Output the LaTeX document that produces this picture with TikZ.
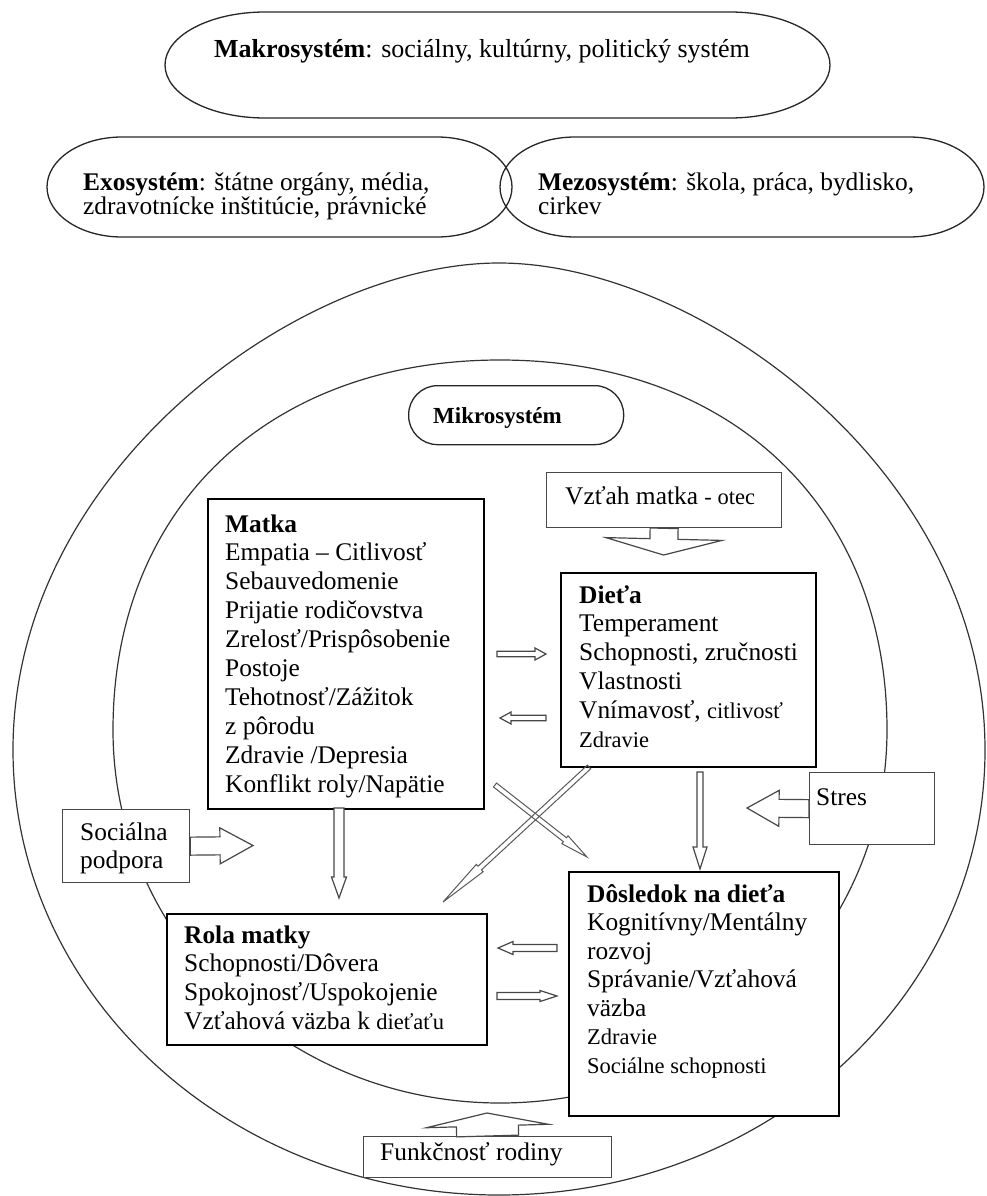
\documentclass[tikz,border=0pt]{standalone}
\usepackage{fontspec}
\setmainfont{Liberation Serif}
\usetikzlibrary{calc}
\newcommand\mainsz{\fontsize{25.4pt}{28.9pt}\selectfont}
\newcommand\smsz{\fontsize{22.5pt}{26pt}\selectfont}
\tikzset{
  box/.style={draw=black, line width=1.5pt, fill=white, anchor=north west, inner sep=0pt},
  gbox/.style={draw=black!72, line width=1.3pt, fill=white, anchor=north west, inner sep=0pt},
  txt/.style={anchor=base west, inner sep=0pt, font=\mainsz},
  ring/.style={draw=black!80, line width=1.2pt},
  stad/.style={draw=black!85, line width=1.3pt},
  barrow/.style={draw=black!72, line width=1.2pt, fill=white},
  thinarr/.style={draw=black!65, line width=1pt},
}
\newcommand\stadium[6]{%
  \draw[stad] ({#1+#5},#2) -- ({#3-#5},#2)
    arc[start angle=90,end angle=-90,x radius=#5pt,y radius=#6pt]
    -- ({#1+#5},#4)
    arc[start angle=270,end angle=90,x radius=#5pt,y radius=#6pt] -- cycle;}
\newcommand\blockarr[6][barrow]{%
  \coordinate (bah) at ($(#3)!#6!(#2)$);
  \draw[#1] ($(#2)!#4!90:(#3)$) -- ($(bah)!#4!90:(#3)$) -- ($(bah)!#5!90:(#3)$)
    -- (#3) -- ($(bah)!#5!-90:(#3)$) -- ($(bah)!#4!-90:(#3)$)
    -- ($(#2)!#4!-90:(#3)$) -- cycle;}
\begin{document}
\begin{tikzpicture}[x=1pt,y=-1pt]
\path[use as bounding box] (0,0) rectangle (986,1196);

% outer and inner system rings
\draw[ring] (13,750) .. controls (13,470) and (300,263) .. (499,263)
  .. controls (698,263) and (985,470) .. (985,750)
  .. controls (985,996) and (767,1195) .. (499,1195)
  .. controls (231,1195) and (13,996) .. (13,750) -- cycle;
\draw[ring] (113,730) .. controls (113,508) and (268,360) .. (500,360)
  .. controls (732,360) and (887,508) .. (887,730)
  .. controls (887,936) and (714,1103) .. (500,1103)
  .. controls (286,1103) and (113,936) .. (113,730) -- cycle;

% top systems
\stadium{165}{12}{830}{118}{100}{53}
\stadium{47}{137}{512}{237}{75}{50}
\stadium{500}{137}{984}{237}{75}{50}
\node[txt, font=\fontsize{26pt}{30pt}\selectfont] (makroT) at (214,58)
  {\textbf{Makrosystém}: sociálny, kultúrny, politický systém};
\node[txt] (exoT) at (83,190) {\parbox[t]{420pt}{\fontsize{25.4pt}{20pt}\selectfont
  \textbf{Exosystém}: štátne orgány, média,\\zdravotnícke inštitúcie, právnické}};
\node[txt] (mezoT) at (538,190) {\parbox[t]{420pt}{\fontsize{25.4pt}{20pt}\selectfont
  \textbf{Mezosystém}: škola, práca, bydlisko,\\cirkev}};

% Mikrosystem label
\node[draw=black!85, line width=1.3pt, rounded corners=29pt, minimum width=215pt,
  minimum height=59pt, anchor=north west, inner sep=0pt] (mikro) at (408,385) {};
\node[txt, font=\fontsize{23pt}{26pt}\selectfont\bfseries] (mikroT) at (433,423) {Mikrosystém};

% boxes
\node[box, minimum width=276pt, minimum height=310pt] (matka) at (207,498) {};
\node[txt] (matkaT) at (225,532) {\parbox[t]{255pt}{\textbf{Matka}\\Empatia – Citlivosť\\Sebauvedomenie\\Prijatie rodičovstva\\Zrelosť/Prispôsobenie\\Postoje\\Tehotnosť/Zážitok\\z pôrodu\\Zdravie /Depresia\\Konflikt roly/Napätie}};

\node[box, minimum width=255pt, minimum height=194pt] (dieta) at (560,572) {};
\node[txt] (dietaT) at (579,603) {\parbox[t]{235pt}{\textbf{Dieťa}\\Temperament\\Schopnosti, zručnosti\\Vlastnosti\\Vnímavosť, {\smsz citlivosť}\\{\smsz Zdravie}}};

\node[gbox, minimum width=235pt, minimum height=55pt] (vztah) at (546,472) {};
\node[txt] (vztahT) at (565,504) {Vzťah matka {\smsz - otec}};

\node[gbox, minimum width=125pt, minimum height=72pt] (stres) at (809,772) {};
\node[txt] (stresT) at (816,805) {Stres};

\node[gbox, minimum width=127pt, minimum height=73pt] (soc) at (62,809) {};
\node[txt] (socT) at (80,840) {\parbox[t]{110pt}{Sociálna\\podpora}};

\node[box, minimum width=320pt, minimum height=131pt] (rola) at (166,913) {};
\node[txt] (rolaT) at (184,943) {\parbox[t]{300pt}{\textbf{Rola matky}\\Schopnosti/Dôvera\\Spokojnosť/Uspokojenie\\Vzťahová väzba k {\smsz dieťaťu}}};

\node[box, minimum width=270pt, minimum height=244pt] (dosl) at (568,871) {};
\node[txt] (doslT) at (587,902) {\parbox[t]{250pt}{\fontsize{25.4pt}{28.5pt}\selectfont\textbf{Dôsledok na dieťa}\\Kognitívny/Mentálny\\rozvoj\\Správanie/Vzťahová\\väzba\\{\smsz Zdravie}\\{\smsz Sociálne schopnosti}}};

\node[gbox, minimum width=248pt, minimum height=41pt] (funk) at (363,1136) {};
\node[txt] (funkT) at (380,1160) {Funkčnosť rodiny};

% arrow end points
\coordinate (vzTip) at (663.5,555);
\coordinate (stTip) at (747,808);
\coordinate (soTip) at (253,845.5);
\coordinate (fuTip) at (487,1113);
\coordinate (mrS) at (339,808);
\coordinate (mrTip) at (339,898);
\coordinate (ddS) at (700,772);
\coordinate (ddTip) at (700,869);
\coordinate (md1) at (497,654);
\coordinate (md2) at (546,654);
\coordinate (dm1) at (546,718);
\coordinate (dm2) at (500,718);
\coordinate (dr1) at (557,948);
\coordinate (dr2) at (498,948);
\coordinate (rd1) at (497,996);
\coordinate (rd2) at (557,996);
\coordinate (cA1) at (589,767);
\coordinate (cA2) at (443,902);
\coordinate (cB1) at (495,785);
\coordinate (cB2) at (587,857);

% block arrows
\blockarr{vztah.south}{vzTip}{14pt}{58pt}{16pt}
\blockarr{stres.west}{stTip}{9pt}{18pt}{32pt}
\blockarr{soc.east}{soTip}{9pt}{18pt}{33pt}
\blockarr{funk.north}{fuTip}{31pt}{61pt}{13pt}
\blockarr{mrS}{mrTip}{5pt}{7.5pt}{21pt}
\blockarr{ddS}{ddTip}{3pt}{7pt}{22pt}
\blockarr{md1}{md2}{2.7pt}{6pt}{11pt}
\blockarr{dm1}{dm2}{2.7pt}{6pt}{11pt}
\blockarr{dr1}{dr2}{3.5pt}{6.5pt}{15pt}
\blockarr{rd1}{rd2}{3.5pt}{5.5pt}{17pt}
\blockarr[thinarr]{cA1}{cA2}{2.5pt}{5pt}{50pt}
\blockarr[thinarr]{cB1}{cB2}{2.5pt}{5pt}{28pt}
\end{tikzpicture}
\end{document}
